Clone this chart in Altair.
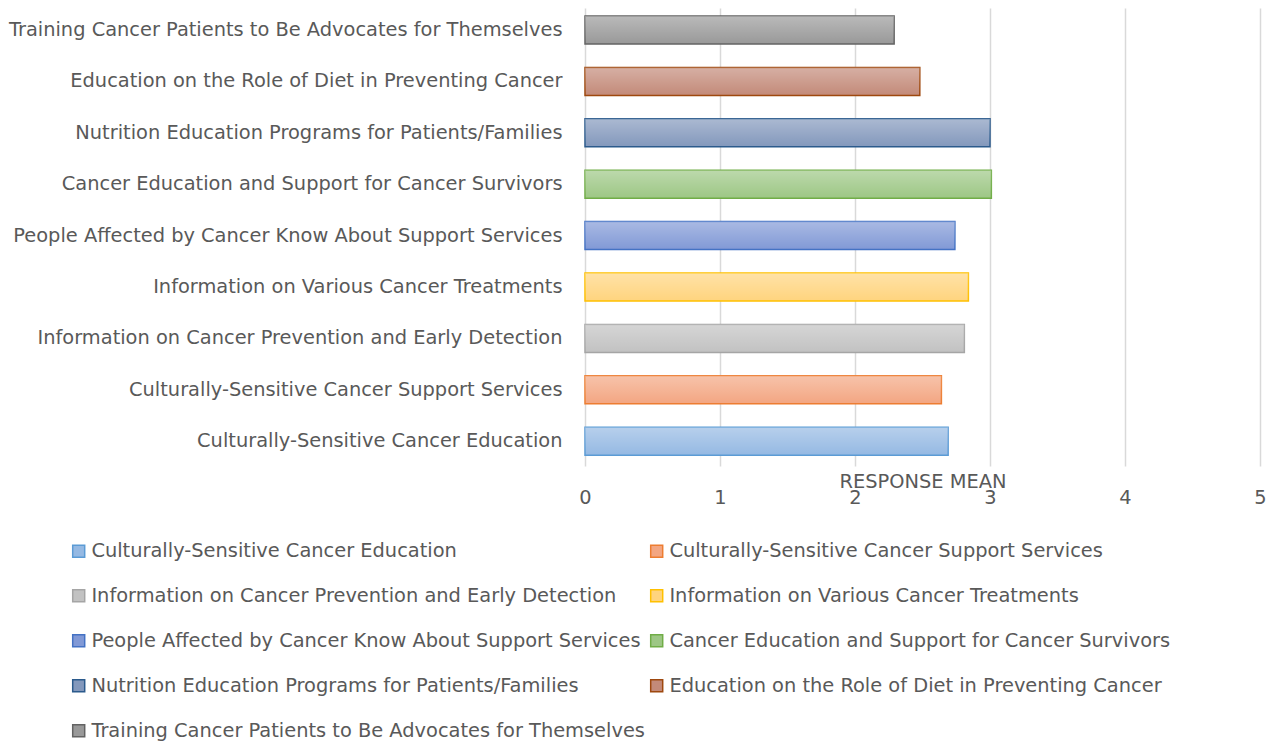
import altair as alt
import pandas as pd

categories = [
    "Culturally-Sensitive Cancer Education",
    "Culturally-Sensitive Cancer Support Services",
    "Information on Cancer Prevention and Early Detection",
    "Information on Various Cancer Treatments",
    "People Affected by Cancer Know About Support Services",
    "Cancer Education and Support for Cancer Survivors",
    "Nutrition Education Programs for Patients/Families",
    "Education on the Role of Diet in Preventing Cancer",
    "Training Cancer Patients to Be Advocates for Themselves",
]
values = [2.69, 2.64, 2.81, 2.84, 2.74, 3.01, 3.00, 2.48, 2.29]
fill_colors = ["#95B9E3", "#F3A682", "#C2C2C2", "#FFD47E", "#8199D6",
               "#9DC785", "#8398BC", "#C38A79", "#999999"]
stroke_colors = ["#5B9BD5", "#ED7D31", "#A5A5A5", "#FFC000", "#4472C4",
                 "#70AD47", "#2B5A8C", "#9E480E", "#636363"]
x_ticks = [0, 1, 2, 3, 4, 5]

df = pd.DataFrame({"category": categories, "value": values})

FONT = "DejaVu Sans"
TXT = "#595959"
FS = 19.4

y_enc = alt.Y(
    "category:N",
    sort=list(reversed(categories)),
    title=None,
    scale=alt.Scale(paddingInner=0.455, paddingOuter=0.183, align=0.426),
    axis=alt.Axis(domain=False, ticks=False, labelPadding=23, labelFontSize=FS,
                  labelColor=TXT, labelFont=FONT, labelLimit=0, grid=False),
)
x_enc = alt.X(
    "value:Q",
    title="RESPONSE MEAN",
    scale=alt.Scale(domain=[0, 5], nice=False),
    axis=alt.Axis(values=x_ticks, format="d", domain=False, ticks=False, grid=True,
                  gridColor="#D9D9D9", gridWidth=1.5, labelPadding=22, labelFlush=False,
                  labelFontSize=FS, labelColor=TXT, labelFont=FONT,
                  titleFont=FONT, titleFontSize=FS, titleFontWeight="normal",
                  titleColor=TXT, titleY=15, titleBaseline="middle"),
)

leg = dict(orient="none", legendX=-516, legendY=533, columns=2, direction="horizontal",
           title=None, symbolType="square", symbolSize=144, symbolStrokeWidth=1.5,
           labelFontSize=FS, labelColor=TXT, labelFont=FONT, labelLimit=0,
           rowPadding=24, columnPadding=2, labelOffset=3, padding=0,
           symbolOpacity=1)

base = alt.Chart(df)

bars = base.mark_bar(strokeWidth=1.5).encode(
    x=x_enc,
    y=y_enc,
    fill=alt.Fill("category:N", scale=alt.Scale(domain=categories, range=fill_colors),
                  legend=alt.Legend(**leg)),
    stroke=alt.Stroke("category:N", scale=alt.Scale(domain=categories, range=stroke_colors),
                      legend=alt.Legend(**leg)),
)

overlay = base.mark_bar(
    strokeWidth=0,
    fill=alt.LinearGradient(
        gradient="linear",
        stops=[alt.GradientStop(color="rgba(255,255,255,0.32)", offset=0),
               alt.GradientStop(color="rgba(255,255,255,0.0)", offset=1)],
        x1=0, x2=0, y1=0, y2=1,
    ),
).encode(x=alt.X("value:Q"), y=alt.Y("category:N", sort=list(reversed(categories))))

chart = alt.layer(bars, overlay).properties(
    width=675, height=458,
    autosize=alt.AutoSizeParams(type="none"),
    padding={"left": 577, "top": 0, "right": 9, "bottom": 284},
).configure_view(stroke=None)

chart.save("out.html", embed_options={"renderer": "svg", "actions": False})
